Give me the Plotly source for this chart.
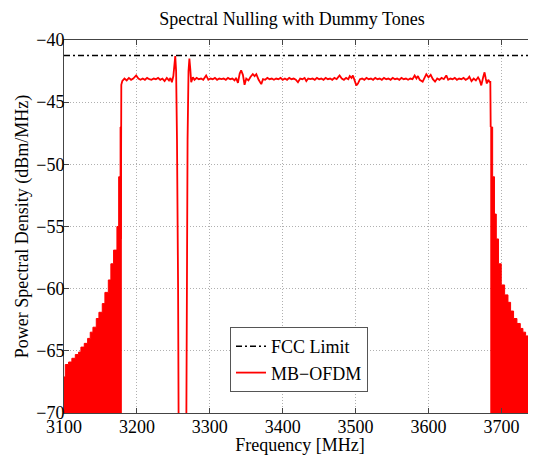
import plotly.graph_objects as go

# ---------------- data ----------------
fcc_freq = [3100, 3750]
fcc_db = [-41.25, -41.25]

# left out-of-band sidelobes: start frequency of each lobe step and its peak level
left_lobe_freq = [3100, 3101.8, 3106.3, 3110.8, 3115.5, 3120, 3123.2, 3127.8, 3132.4,
                  3136, 3139.7, 3144.3, 3147.9, 3152.5, 3156.1, 3160.8, 3164.3, 3168,
                  3172.6, 3175.0, 3177.0]
left_lobe_db = [-67.1, -66.1, -65.9, -65.6, -65.3, -65.1, -64.7, -64.4, -64.0,
                -63.5, -63.1, -62.4, -61.9, -61.2, -60.3, -59.3, -58.0, -56.9,
                -55.0, -51.0, -47.0]
left_lobe_end = 3178.6

# right out-of-band sidelobes
right_lobe_freq = [3685.5, 3688, 3690.5, 3693, 3696, 3699.8, 3704.4, 3709, 3712.6,
                   3716.7, 3721.3, 3725.9, 3729.5, 3733.2, 3737.7, 3742.4]
right_lobe_db = [-47, -51, -54, -56, -58, -59.7, -60.5, -61.1, -61.8,
                 -62.4, -62.8, -63.2, -63.5, -63.8, -64.1, -64.5]
right_lobe_end = 3750

# in-band PSD with the dummy-tone notch
band_freq = [3178.0, 3178.6, 3180, 3183, 3186, 3189, 3192, 3195, 3199, 3202, 3205, 3208,
             3211, 3214, 3217, 3220, 3223, 3226, 3229, 3232, 3235, 3238, 3241, 3244,
             3246, 3248, 3250, 3251.5, 3252.6, 3253.8, 3255, 3256.5, 3257.5,
             3267.5, 3268.5, 3269.5, 3270.8, 3272.0, 3273.2, 3274.5, 3276.8, 3279,
             3282, 3285, 3288, 3291, 3295, 3298, 3301, 3304, 3307, 3310, 3313, 3316,
             3319, 3322, 3325, 3328, 3331, 3334, 3336, 3338.6, 3341, 3343, 3345.4,
             3347.7, 3350, 3353, 3356, 3359, 3361.5, 3363.8, 3367, 3370.6, 3373,
             3376, 3379, 3382, 3385, 3388, 3391, 3394, 3397, 3400, 3403, 3406, 3409,
             3412, 3415, 3418, 3420.9, 3424, 3427, 3430, 3432.4, 3435, 3438, 3441,
             3444, 3447, 3450, 3453, 3456, 3459, 3462, 3465, 3468, 3471, 3474, 3478,
             3481, 3484, 3487, 3490, 3492, 3494.5, 3496.3, 3498.5, 3501, 3503.2,
             3506, 3509, 3512, 3515, 3518, 3521, 3524, 3527, 3530, 3533, 3536, 3539,
             3542, 3545, 3548, 3551, 3554, 3557, 3560, 3563, 3566, 3569, 3572, 3575,
             3578, 3581, 3583.5, 3585.5, 3588, 3592, 3595, 3597, 3600, 3603, 3606,
             3609, 3612, 3615, 3618, 3621, 3624.4, 3627, 3630, 3633, 3636, 3639,
             3642, 3645, 3648, 3651, 3654, 3656, 3659, 3662, 3665, 3668, 3670,
             3672.4, 3675, 3676.9, 3678.5, 3680, 3682, 3684, 3684.8, 3685.3]
band_db = [-56.0, -43.6, -43.3, -43.1, -43.25, -43.05, -43.2, -43.1, -42.85, -43.1, -43.2, -43.1,
           -43.2, -43.05, -43.15, -43.2, -43.1, -43.15, -43.05, -43.2, -43.1, -43.3, -43.05, -43.25,
           -43.05, -43.4, -42.9, -42.0, -41.3, -42.5, -48.0, -60.0, -75.0,
           -75.0, -60.0, -48.0, -42.5, -41.5, -42.3, -43.4, -43.0, -43.2,
           -43.05, -43.15, -43.1, -43.2, -42.85, -43.2, -43.1, -43.15, -43.05, -43.2, -43.1, -43.15,
           -43.1, -43.2, -43.05, -43.15, -43.1, -43.25, -43.05, -43.45, -42.7, -42.45, -42.8,
           -43.6, -43.1, -43.25, -42.95, -42.75, -42.9, -42.75, -43.2, -43.55, -43.15,
           -43.2, -43.05, -43.15, -43.1, -43.2, -43.1, -43.15, -43.05, -43.2, -43.1, -43.2, -43.05,
           -43.15, -43.1, -43.2, -43.4, -43.1, -43.15, -43.05, -43.3, -43.1, -43.15, -43.1,
           -43.2, -43.05, -43.15, -43.1, -43.2, -43.05, -43.15, -43.1, -43.2, -43.05, -43.15, -42.85,
           -43.1, -43.2, -43.05, -43.15, -42.9, -43.05, -42.85, -43.2, -43.65, -43.5,
           -43.15, -43.1, -43.2, -43.05, -43.15, -43.1, -43.2, -43.05, -43.15, -43.1, -43.2, -43.05,
           -43.15, -43.1, -43.2, -43.05, -43.15, -43.1, -43.2, -43.05, -43.15, -43.1, -43.2, -43.1,
           -43.15, -42.85, -43.1, -42.9, -43.2, -43.35, -43.0, -42.75, -43.0, -42.8, -43.15,
           -43.35, -43.1, -43.2, -43.05, -43.15, -42.85, -43.2, -43.1, -43.15, -43.05, -43.2,
           -43.1, -43.15, -43.05, -43.2, -43.1, -42.95, -43.3, -43.1, -43.25, -43.0, -43.2,
           -43.65, -43.0, -42.6, -43.1, -43.5, -43.2, -43.4, -43.3, -47.0]

x_ticks = [3100, 3200, 3300, 3400, 3500, 3600, 3700]
y_ticks = [-70, -65, -60, -55, -50, -45, -40]

# ---------------- figure ----------------
RED = "#ff0000"
FLOOR = -80  # below the visible axis range, closes the filled sidelobe regions
FONT = "Liberation Serif, Times New Roman, serif"


def lobe_polygon(freqs, dbs, end):
    xs = [freqs[0]] + list(freqs) + [end, end]
    ys = [FLOOR] + list(dbs) + [dbs[-1], FLOOR]
    return xs, ys


fig = go.Figure()

fig.add_trace(go.Scatter(
    x=fcc_freq, y=fcc_db, mode="lines", name="FCC Limit",
    line=dict(color="black", width=1.5, dash="6px,3px,2px,3px"),
))

lx, ly = lobe_polygon(left_lobe_freq, left_lobe_db, left_lobe_end)
fig.add_trace(go.Scatter(
    x=lx, y=ly, mode="lines", line=dict(color=RED, width=1, shape="hv"),
    fill="toself", fillcolor=RED, showlegend=False, legendgroup="ofdm",
    hoverinfo="skip",
))
rx, ry = lobe_polygon(right_lobe_freq, right_lobe_db, right_lobe_end)
fig.add_trace(go.Scatter(
    x=rx, y=ry, mode="lines", line=dict(color=RED, width=1, shape="hv"),
    fill="toself", fillcolor=RED, showlegend=False, legendgroup="ofdm",
    hoverinfo="skip",
))

fig.add_trace(go.Scatter(
    x=band_freq, y=band_db, mode="lines", name="MB\u2212OFDM",
    line=dict(color=RED, width=1.8), legendgroup="ofdm",
))

# the page body has an 8px default margin: the figure is sized to fit the window
W, H = 528, 447
L, R, T, B = 56, 0, 32, 42
PW, PH = W - L - R, H - T - B

fig.update_layout(
    width=W, height=H,
    margin=dict(l=L, r=R, t=T, b=B),
    paper_bgcolor="white", plot_bgcolor="white",
    font=dict(family=FONT, size=18, color="black"),
    title=dict(text="Spectral Nulling with Dummy Tones", x=284 / W, xref="container",
               xanchor="center", y=1 - 11 / H, yref="container", yanchor="middle",
               font=dict(family=FONT, size=18, color="black")),
    showlegend=True,
    legend=dict(x=(222 - L) / PW, y=(H - B - 319) / PH,
                xanchor="left", yanchor="top",
                bgcolor="white", bordercolor="#555555", borderwidth=1,
                font=dict(family=FONT, size=18, color="black"),
                itemwidth=30, tracegroupgap=0),
)

fig.update_xaxes(
    range=[3100, 3100 + PW / 0.729],
    tickvals=x_ticks, ticktext=[str(v) for v in x_ticks],
    showline=True, linecolor="#444444", linewidth=1, mirror="ticks",
    ticks="inside", ticklen=5, tickcolor="#444444",
    showgrid=True, gridcolor="#b0b0b0", griddash="1px,2px", gridwidth=1,
    zeroline=False, ticklabelstandoff=-3,
    title=dict(text="Frequency [MHz]", standoff=4, font=dict(family=FONT, size=18)),
    tickfont=dict(family=FONT, size=18),
)
fig.update_yaxes(
    range=[-70, -40],
    tickvals=y_ticks,
    showline=True, linecolor="#444444", linewidth=1, mirror=False,
    ticks="inside", ticklen=5, tickcolor="#444444",
    showgrid=True, gridcolor="#b0b0b0", griddash="1px,2px", gridwidth=1,
    zeroline=False, ticklabelstandoff=-5,
    title=dict(text="Power Spectral Density (dBm/MHz)", standoff=2,
               font=dict(family=FONT, size=18)),
    tickfont=dict(family=FONT, size=18),
)

fig.write_html("out.html")
